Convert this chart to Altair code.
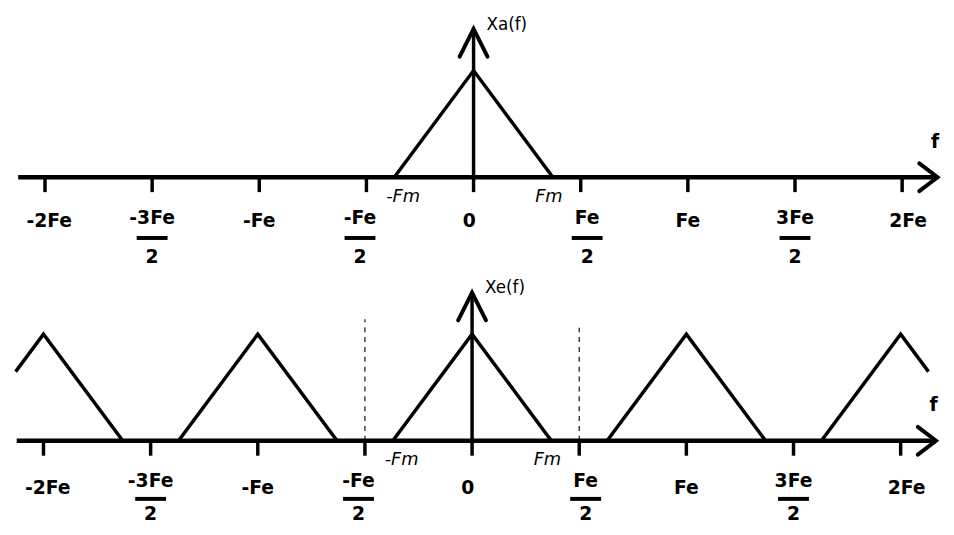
import altair as alt
import pandas as pd

# ---------------- data ----------------
FM = 0.37                      # half-width of the baseband spectrum (in units of Fe)
PEAK = 1.0                     # spectrum amplitude
TOP_CENTERS = [0]              # Xa(f): baseband only
BOTTOM_CENTERS = [-2, -1, 0, 1, 2]   # Xe(f): replicas at k*Fe
SPECTRUM_EDGE = 2.13           # replicated spectrum drawn up to +-this frequency
TICK_VALUES = [-2, -1.5, -1, -0.5, 0, 0.5, 1, 1.5, 2]
TICK_NUMERATORS = ["-2Fe", "-3Fe", "-Fe", "-Fe", "0", "Fe", "Fe", "3Fe", "2Fe"]
TICK_DENOMINATORS = ["", "2", "", "2", "", "2", "", "2", ""]
DASH_POSITIONS = [-0.5, 0.5]
DASH_HEIGHTS = [1.14, 1.06]
AXIS_START = -2.125
AXIS_END = 2.165
Y_ARROW_TOP = 1.39
PANEL_TITLES = ["Xa(f)", "Xe(f)"]
FM_LABELS = ["-Fm", "Fm"]
F_LABEL = "f"

FONT = "DejaVu Sans"
BLACK = "#000000"

# small horizontal label nudges (layout only, in units of Fe)
LABEL_NUDGE = {-2: 0.02, -0.5: -0.03, 0: -0.02, 0.5: 0.03, 2: 0.028}


def spectrum_points(centers, edge=None):
    xs = set()
    for c in centers:
        xs.update([c - FM, c, c + FM])
    if edge is not None:
        xs = {x for x in xs if -edge <= x <= edge} | {-edge, edge}
    xs = sorted(xs)

    def amp(f):
        return sum(max(0.0, PEAK * (1 - abs(f - c) / FM)) for c in centers)

    return pd.DataFrame({"f": xs, "amp": [amp(x) for x in xs]})


ticks = pd.DataFrame({"v": TICK_VALUES, "num": TICK_NUMERATORS, "den": TICK_DENOMINATORS})
ticks["lx"] = [v + LABEL_NUDGE.get(v, 0.0) for v in TICK_VALUES]
plain = ticks[ticks["den"] == ""]
frac = ticks[ticks["den"] != ""]

arrow_heads = pd.DataFrame({
    "head": ["y", "y", "y", "x", "x", "x"],
    "i": [0, 1, 2, 0, 1, 2],
    "x": [-0.065, 0.0, 0.065, AXIS_END - 0.085, AXIS_END, AXIS_END - 0.085],
    "y": [Y_ARROW_TOP - 0.26, Y_ARROW_TOP, Y_ARROW_TOP - 0.26, 0.13, 0.0, -0.13],
})

dashes = pd.DataFrame({"x": DASH_POSITIONS, "h": DASH_HEIGHTS})


def panel(centers, edge, title, xdom, ydom, height, with_dashes, lab):
    xs = alt.Scale(domain=xdom, nice=False, zero=False)
    ys = alt.Scale(domain=ydom, nice=False, zero=False)
    X = lambda f: alt.X(f, type="quantitative", scale=xs, axis=None)
    Y = lambda f: alt.Y(f, type="quantitative", scale=ys, axis=None)
    YD = lambda v: alt.Y(datum=v, type="quantitative", scale=ys, axis=None)

    base_axis = alt.Chart(pd.DataFrame({"a": [AXIS_START], "b": [AXIS_END], "y": [0.0]})).mark_rule(
        color=BLACK, strokeWidth=4.5).encode(x=X("a"), x2="b", y=Y("y"))

    shaft = alt.Chart(pd.DataFrame({"x": [0.0], "y0": [0.0], "y1": [Y_ARROW_TOP]})).mark_rule(
        color=BLACK, strokeWidth=3.5).encode(x=X("x"), y=Y("y0"), y2="y1")

    heads = alt.Chart(arrow_heads).mark_line(
        color=BLACK, strokeWidth=4, strokeJoin="miter", strokeCap="round").encode(
        x=X("x"), y=Y("y"), detail="head:N", order="i:Q")

    tick_marks = alt.Chart(ticks).transform_calculate(y0="0", y1="-0.14").mark_rule(
        color=BLACK, strokeWidth=3.5).encode(x=X("v"), y=Y("y0:Q"), y2="y1:Q")

    spec = alt.Chart(spectrum_points(centers, edge)).mark_line(
        color=BLACK, strokeWidth=3.5, strokeJoin="miter").encode(x=X("f"), y=Y("amp"))

    txt = dict(font=FONT, fontSize=19, fontWeight="bold", color=BLACK, baseline="middle", align="center")
    plain_lbl = alt.Chart(plain).mark_text(**txt).encode(x=X("lx"), y=YD(lab["plain"]), text="num:N")
    num_lbl = alt.Chart(frac).mark_text(**txt).encode(x=X("lx"), y=YD(lab["num"]), text="num:N")
    den_lbl = alt.Chart(frac).mark_text(**txt).encode(x=X("lx"), y=YD(lab["den"]), text="den:N")
    bars = alt.Chart(frac).transform_calculate(a="datum.lx - 0.072", b="datum.lx + 0.072").mark_rule(
        color=BLACK, strokeWidth=4).encode(x=X("a:Q"), x2="b:Q", y=YD(lab["bar"]))

    fm_style = dict(font=FONT, fontSize=18, fontStyle="italic", color=BLACK, baseline="middle", align="center")
    fm_neg = alt.Chart(pd.DataFrame({"x": [-FM], "t": [FM_LABELS[0]]})).mark_text(dx=9, **fm_style).encode(
        x=X("x"), y=YD(-0.185), text="t:N")
    fm_pos = alt.Chart(pd.DataFrame({"x": [FM], "t": [FM_LABELS[1]]})).mark_text(dx=-4, **fm_style).encode(
        x=X("x"), y=YD(-0.185), text="t:N")

    ttl = alt.Chart(pd.DataFrame({"x": [0.0], "t": [title]})).mark_text(
        font=FONT, fontSize=17, color=BLACK, align="left", baseline="middle", dx=13).encode(
        x=X("x"), y=YD(1.43), text="t:N")

    f_lbl = alt.Chart(pd.DataFrame({"x": [AXIS_END - 0.03], "t": [F_LABEL]})).mark_text(
        font=FONT, fontSize=19, fontWeight="bold", color=BLACK, align="left", baseline="middle").encode(
        x=X("x"), y=YD(0.333), text="t:N")

    layers = [spec, base_axis, shaft, heads, tick_marks, plain_lbl, num_lbl, den_lbl, bars,
              fm_neg, fm_pos, ttl, f_lbl]
    if with_dashes:
        dl = alt.Chart(dashes).transform_calculate(y0="0").mark_rule(
            color="#222222", strokeWidth=1.3, strokeDash=[5, 5]).encode(
            x=X("x"), y=Y("y0:Q"), y2="h:Q")
        layers.insert(0, dl)

    return alt.layer(*layers).properties(width=938, height=height)


top = panel(TOP_CENTERS, None, PANEL_TITLES[0], [-2.145, 2.177], [-0.944, 1.556], 270, False,
            dict(plain=-0.41, num=-0.38, bar=-0.57, den=-0.745))
bottom = panel(BOTTOM_CENTERS, SPECTRUM_EDGE, PANEL_TITLES[1], [-2.138, 2.184], [-0.778, 1.528], 249, True,
               dict(plain=-0.44, num=-0.38, bar=-0.545, den=-0.685))

chart = alt.vconcat(top, bottom, spacing=0, bounds="flush").properties(
    padding=0, autosize=alt.AutoSizeParams(type="pad"), background="white"
).configure_view(strokeWidth=0, stroke="transparent")

chart.save("out.html", embed_options={"renderer": "svg", "actions": False})
